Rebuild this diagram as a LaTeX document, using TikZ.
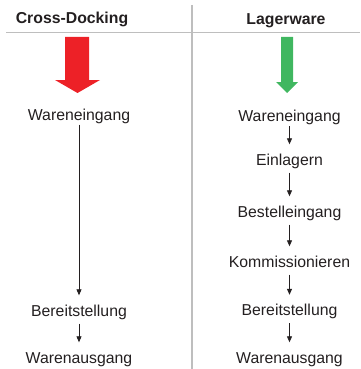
\documentclass[tikz,border=0pt]{standalone}
\usepackage{fontspec}
\setmainfont{Liberation Sans}
\usetikzlibrary{arrows.meta}
\definecolor{bigred}{RGB}{237,33,39}
\definecolor{biggreen}{RGB}{64,183,96}
\definecolor{rulegray}{RGB}{190,190,190}
\definecolor{txt}{RGB}{35,31,32}
\tikzset{
  lbl/.style={anchor=base, inner sep=0pt, text height=11.5pt, text depth=3.3pt,
    font=\fontsize{15.8}{18}\selectfont, text=txt},
  ttl/.style={anchor=base, inner sep=0pt, font=\fontsize{15.8}{18}\selectfont\bfseries, text=txt},
  flow/.style={draw=txt, line width=0.8pt, -{Triangle[length=6pt,width=5pt]},
    shorten <=4pt, shorten >=9pt},
  rulel/.style={draw=rulegray, line width=1.5pt}
}
\begin{document}
\begin{tikzpicture}[x=1pt,y=-1pt]
\useasboundingbox (0,0) rectangle (360,369);
% rules
\coordinate (hl) at (6,32.5);
\coordinate (hr) at (360,32.5);
\coordinate (vt) at (192,5);
\coordinate (vb) at (192,369);
\draw[rulel] (hl) -- (hr);
\draw[rulel] (vt) -- (vb);
% titles
\node[ttl] (t1) at (72,24) {Cross-Docking};
\node[ttl] (t2) at (286,24.5) {Lagerware};
% big arrows
\fill[bigred] (65,37) -- (89,37) -- (89,80) -- (100,80) -- (77.5,93) -- (55,80) -- (65,80) -- cycle;
\fill[biggreen] (281,37) -- (293,37) -- (293,82) -- (298,82) -- (287,93) -- (276,82) -- (281,82) -- cycle;
% left column
\node[lbl] (l1) at (79,120) {Wareneingang};
\node[lbl] (l2) at (79,316) {Bereitstellung};
\node[lbl] (l3) at (79,363) {Warenausgang};
\draw[flow,shorten <=1pt] (l1.south) -- (l1.south |- l2.north);
\draw[flow] (l2.south) -- (l2.south |- l3.north);
% right column
\node[lbl] (r1) at (289.5,121.5) {Wareneingang};
\node[lbl] (r2) at (289.5,165) {Einlagern};
\node[lbl] (r3) at (289.5,217) {Bestelleingang};
\node[lbl] (r4) at (289.5,267) {Kommissionieren};
\node[lbl] (r5) at (289.5,315.5) {Bereitstellung};
\node[lbl] (r6) at (289.5,363) {Warenausgang};
\draw[flow,shorten <=1pt] (r1.south) -- (r1.south |- r2.north);
\draw[flow] (r2.south) -- (r2.south |- r3.north);
\draw[flow] (r3.south) -- (r3.south |- r4.north);
\draw[flow] (r4.south) -- (r4.south |- r5.north);
\draw[flow] (r5.south) -- (r5.south |- r6.north);
\end{tikzpicture}
\end{document}
